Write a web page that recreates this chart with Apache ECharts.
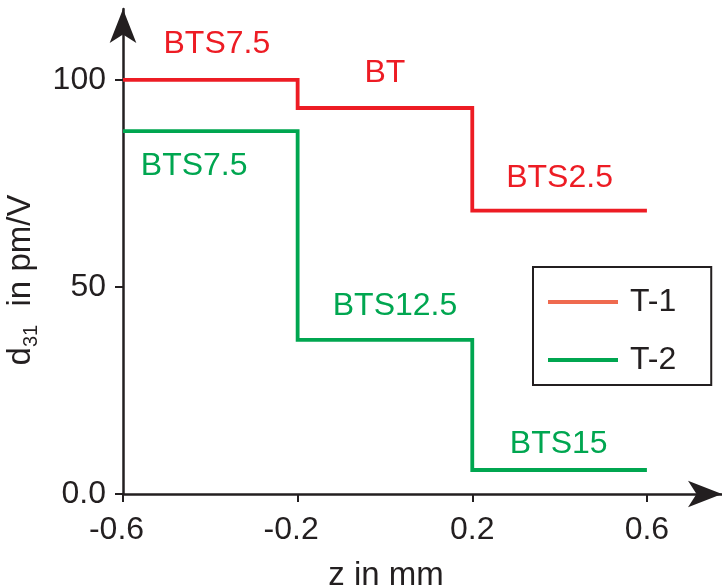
<!DOCTYPE html>
<html>
<head>
<meta charset="utf-8">
<script src="https://cdn.jsdelivr.net/npm/echarts@6/dist/echarts.min.js"></script>
<style>
  html, body { margin: 0; padding: 0; background: #ffffff; }
  #chart { width: 722px; height: 587px; }
</style>
</head>
<body>
<div id="chart"></div>
<script>
// Position along the sample (mm): segment boundaries
var zEdges = [-0.6, -0.2, 0.2, 0.6];
// d31 (pm/V) on each segment
var t1Levels = [100, 93.2, 68.4];
var t2Levels = [87.6, 37.2, 5.8];
// Composition names of each segment
var t1Names = ['BTS7.5', 'BT', 'BTS2.5'];
var t2Names = ['BTS7.5', 'BTS12.5', 'BTS15'];
// Axis ticks and labels
var xTicks = [-0.6, -0.2, 0.2, 0.6];
var xTickLabels = ['-0.6', '-0.2', '0.2', '0.6'];
var yTicks = [0, 50, 100];
var yTickLabels = ['0.0', '50', '100'];
var seriesNames = ['T-1', 'T-2'];

var FONT = "'Liberation Sans', Arial, Helvetica, sans-serif";
var INK = '#231f20';
var RED = '#ed1c24';
var GREEN = '#00a650';
var RED_KEY = '#ef6a4f';

// turn boundaries + levels into step-line vertices
function stepPoints(edges, levels) {
  var pts = [];
  for (var i = 0; i < levels.length; i++) pts.push([edges[i], levels[i]]);
  pts.push([edges[edges.length - 1], levels[levels.length - 1]]);
  return pts;
}

// where each composition name sits, in axis units
var t1Anchors = [[-0.385, 108.5], [0.0, 101.7], [0.40, 76.3]];
var t2Anchors = [[-0.437, 79.2], [0.023, 45.4], [0.398, 12.1]];

function nameMarks(names, anchors, color) {
  return {
    symbol: 'circle',
    symbolSize: 1,
    itemStyle: { color: 'rgba(0,0,0,0)' },
    label: {
      show: true, position: 'inside', color: color,
      fontFamily: FONT, fontSize: 32,
      formatter: function (p) { return p.name; }
    },
    data: names.map(function (n, i) { return { name: n, coord: anchors[i] }; })
  };
}

var chart = echarts.init(document.getElementById('chart'), null, { renderer: 'canvas' });

var axisLineStyle = { color: INK, width: 2.5 };

chart.setOption({
  animation: false,
  backgroundColor: '#ffffff',
  grid: { left: 123, right: 0, top: 9, bottom: 93, containLabel: false, outerBoundsMode: 'none' },
  xAxis: {
    type: 'value',
    min: -0.6,
    max: 0.772,
    name: 'z in mm',
    nameLocation: 'middle',
    nameGap: 66,
    nameTextStyle: { fontFamily: FONT, fontSize: 33, color: INK, lineHeight: 32, padding: [0, 73, 0, 0] },
    splitLine: { show: false },
    axisLine: { show: true, onZero: false, lineStyle: axisLineStyle, symbol: ['none', 'arrow'], symbolSize: [20, 34] },
    axisTick: { show: true, inside: false, length: 8, lineStyle: { color: INK, width: 2 }, customValues: xTicks },
    axisLabel: {
      show: true, margin: 20, color: INK, fontFamily: FONT, fontSize: 32, lineHeight: 32,
      customValues: xTicks,
      formatter: function (v) {
        var i = xTicks.indexOf(v);
        var s = i >= 0 ? xTickLabels[i] : '';
        return v < 0 ? '{n|' + s + '}{g| }' : s;
      },
      rich: {
        n: { fontFamily: FONT, fontSize: 32, color: INK },
        g: { width: 13, fontSize: 32 }
      }
    }
  },
  yAxis: {
    type: 'value',
    min: 0,
    max: 117.1,
    name: '{d|d}{s|31}{t|  in pm/V}',
    nameLocation: 'middle',
    nameRotate: 90,
    nameGap: 66,
    nameTextStyle: {
      padding: [0, 57, 0, 0],
      rich: {
        d: { fontFamily: FONT, fontSize: 33, color: INK, lineHeight: 40, verticalAlign: 'bottom' },
        s: { fontFamily: FONT, fontSize: 20, color: INK, lineHeight: 40, verticalAlign: 'bottom', padding: [0, 0, -4, 0] },
        t: { fontFamily: FONT, fontSize: 33, color: INK, lineHeight: 40, verticalAlign: 'bottom' }
      }
    },
    splitLine: { show: false },
    axisLine: { show: true, onZero: false, lineStyle: axisLineStyle, symbol: ['none', 'arrow'], symbolSize: [20, 34] },
    axisTick: { show: true, inside: false, length: 8, lineStyle: { color: INK, width: 2 }, customValues: yTicks },
    axisLabel: {
      show: true, margin: 17, color: INK, fontFamily: FONT, fontSize: 32,
      customValues: yTicks,
      formatter: function (v) {
        var i = yTicks.indexOf(v);
        return i >= 0 ? yTickLabels[i] : '';
      }
    }
  },
  legend: {
    orient: 'vertical',
    left: 533,
    top: 267,
    padding: [17, 35, 7, 15],
    itemGap: 22,
    itemWidth: 70,
    itemHeight: 4,
    borderColor: INK,
    borderWidth: 2,
    borderRadius: 0,
    backgroundColor: '#ffffff',
    textStyle: { fontFamily: FONT, fontSize: 32, color: INK, lineHeight: 36, padding: [0, 0, 0, 7] },
    data: [
      { name: seriesNames[0], icon: 'rect', itemStyle: { color: RED_KEY } },
      { name: seriesNames[1], icon: 'rect', itemStyle: { color: GREEN } }
    ]
  },
  series: [
    {
      name: seriesNames[0],
      type: 'line',
      step: 'end',
      symbol: 'none',
      color: RED,
      lineStyle: { color: RED, width: 3.8, join: 'miter', cap: 'butt' },
      data: stepPoints(zEdges, t1Levels),
      markPoint: nameMarks(t1Names, t1Anchors, RED),
      z: 3
    },
    {
      name: seriesNames[1],
      type: 'line',
      step: 'end',
      symbol: 'none',
      color: GREEN,
      lineStyle: { color: GREEN, width: 3.8, join: 'miter', cap: 'butt' },
      data: stepPoints(zEdges, t2Levels),
      markPoint: nameMarks(t2Names, t2Anchors, GREEN),
      z: 3
    }
  ]
});
</script>
</body>
</html>
